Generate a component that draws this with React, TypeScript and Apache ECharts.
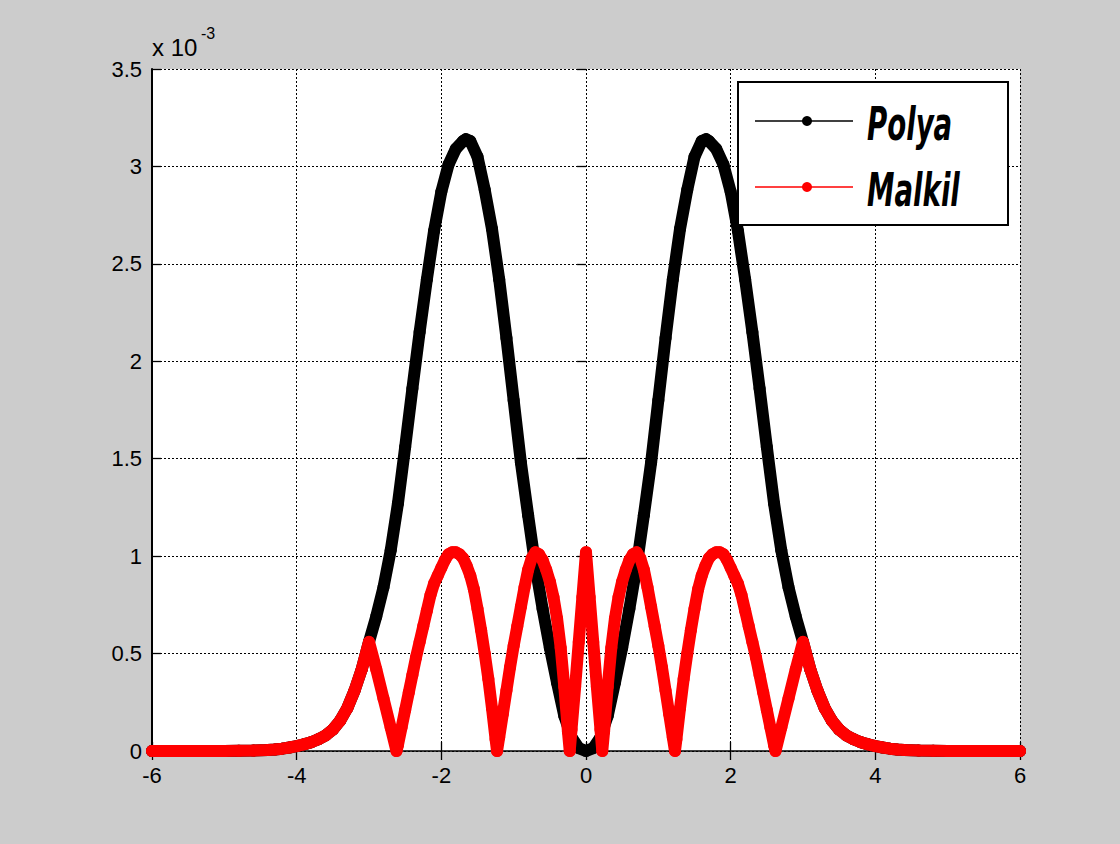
import React, { useEffect, useRef } from "react";
import * as echarts from "echarts";

// Polya curve samples (x, value in units of 1e-3)
const POLYA_X = [
  -6, -5.5, -5, -4.8, -4.6, -4.4, -4.3, -4.2, -4.1, -4,
  -3.9, -3.8, -3.7, -3.6, -3.5, -3.4, -3.3, -3.2, -3.1, -3,
  -2.9, -2.8, -2.7, -2.6, -2.5, -2.4, -2.3, -2.2, -2.1, -2,
  -1.9, -1.8, -1.7, -1.66, -1.6, -1.5, -1.4, -1.3, -1.2, -1.1,
  -1, -0.9, -0.8, -0.7, -0.6, -0.5, -0.4, -0.3, -0.2, -0.1,
  0,
  0.1, 0.2, 0.3, 0.4, 0.5, 0.6, 0.7, 0.8, 0.9, 1,
  1.1, 1.2, 1.3, 1.4, 1.5, 1.6, 1.66, 1.7, 1.8, 1.9,
  2, 2.1, 2.2, 2.3, 2.4, 2.5, 2.6, 2.7, 2.8, 2.9,
  3, 3.1, 3.2, 3.3, 3.4, 3.5, 3.6, 3.7, 3.8, 3.9,
  4, 4.1, 4.2, 4.3, 4.4, 4.6, 4.8, 5, 5.5, 6,
];
const POLYA_Y = [
  0, 0, 0, 0.001, 0.002, 0.005, 0.008, 0.012, 0.018, 0.025,
  0.034, 0.045, 0.06, 0.08, 0.11, 0.155, 0.22, 0.31, 0.42, 0.56,
  0.69, 0.84, 1.03, 1.27, 1.56, 1.86, 2.15, 2.42, 2.67, 2.87,
  3.01, 3.09, 3.13, 3.14, 3.13, 3.05, 2.88, 2.68, 2.42, 2.12,
  1.8, 1.48, 1.21, 0.95, 0.73, 0.53, 0.35, 0.18, 0.07, 0.015,
  0,
  0.015, 0.07, 0.18, 0.35, 0.53, 0.73, 0.95, 1.21, 1.48, 1.8,
  2.12, 2.42, 2.68, 2.88, 3.05, 3.13, 3.14, 3.13, 3.09, 3.01,
  2.87, 2.67, 2.42, 2.15, 1.86, 1.56, 1.27, 1.03, 0.84, 0.69,
  0.56, 0.42, 0.31, 0.22, 0.155, 0.11, 0.08, 0.06, 0.045, 0.034,
  0.025, 0.018, 0.012, 0.008, 0.005, 0.002, 0.001, 0, 0, 0,
];

// Malkil curve samples (x, value in units of 1e-3)
const MALKIL_X = [
  -6, -5.5, -5, -4.8, -4.6, -4.4, -4.3, -4.2, -4.1, -4,
  -3.9, -3.8, -3.7, -3.6, -3.5, -3.4, -3.3, -3.2, -3.1, -3,
  -2.9, -2.8, -2.7, -2.62, -2.6, -2.55, -2.5, -2.45, -2.4, -2.35,
  -2.3, -2.25, -2.2, -2.15, -2.1, -2.05, -2, -1.95, -1.9, -1.85,
  -1.8, -1.75, -1.7, -1.65, -1.6, -1.55, -1.5, -1.45, -1.4, -1.35,
  -1.3, -1.25, -1.23, -1.2, -1.15, -1.1, -1.05, -1, -0.95, -0.9,
  -0.85, -0.8, -0.75, -0.7, -0.65, -0.6, -0.55, -0.5, -0.45, -0.4,
  -0.35, -0.3, -0.25, -0.225, -0.2, -0.15, -0.1, -0.05,
  0,
  0.05, 0.1, 0.15, 0.2, 0.225, 0.25, 0.3, 0.35,
  0.4, 0.45, 0.5, 0.55, 0.6, 0.65, 0.7, 0.75, 0.8, 0.85,
  0.9, 0.95, 1, 1.05, 1.1, 1.15, 1.2, 1.23, 1.25, 1.3,
  1.35, 1.4, 1.45, 1.5, 1.55, 1.6, 1.65, 1.7, 1.75, 1.8,
  1.85, 1.9, 1.95, 2, 2.05, 2.1, 2.15, 2.2, 2.25, 2.3,
  2.35, 2.4, 2.45, 2.5, 2.55, 2.6, 2.62, 2.7, 2.8, 2.9,
  3, 3.1, 3.2, 3.3, 3.4, 3.5, 3.6, 3.7, 3.8, 3.9,
  4, 4.1, 4.2, 4.3, 4.4, 4.6, 4.8, 5, 5.5, 6,
];
const MALKIL_Y = [
  0, 0, 0, 0.001, 0.002, 0.005, 0.008, 0.012, 0.018, 0.025,
  0.034, 0.045, 0.06, 0.08, 0.11, 0.155, 0.22, 0.31, 0.42, 0.56,
  0.42, 0.27, 0.12, 0, 0.03, 0.12, 0.21, 0.3, 0.39, 0.48,
  0.56, 0.64, 0.72, 0.8, 0.86, 0.9, 0.94, 0.98, 1.01, 1.02,
  1.02, 1.01, 0.99, 0.95, 0.9, 0.83, 0.73, 0.62, 0.5, 0.37,
  0.22, 0.06, 0, 0.07, 0.19, 0.31, 0.43, 0.54, 0.64, 0.74,
  0.84, 0.93, 0.99, 1.02, 1.01, 0.98, 0.93, 0.87, 0.79, 0.68,
  0.53, 0.33, 0.1, 0, 0.11, 0.33, 0.56, 0.79,
  1.02,
  0.79, 0.56, 0.33, 0.11, 0, 0.1, 0.33, 0.53,
  0.68, 0.79, 0.87, 0.93, 0.98, 1.01, 1.02, 0.99, 0.93, 0.84,
  0.74, 0.64, 0.54, 0.43, 0.31, 0.19, 0.07, 0, 0.06, 0.22,
  0.37, 0.5, 0.62, 0.73, 0.83, 0.9, 0.95, 0.99, 1.01, 1.02,
  1.02, 1.01, 0.98, 0.94, 0.9, 0.86, 0.8, 0.72, 0.64, 0.56,
  0.48, 0.39, 0.3, 0.21, 0.12, 0.03, 0, 0.12, 0.27, 0.42,
  0.56, 0.42, 0.31, 0.22, 0.155, 0.11, 0.08, 0.06, 0.045, 0.034,
  0.025, 0.018, 0.012, 0.008, 0.005, 0.002, 0.001, 0, 0, 0,
];

const SERIES_NAMES = ["Polya", "Malkil"];
const SERIES_COLORS = ["#000000", "#ff0000"];

const X_MIN = -6;
const X_MAX = 6;
const X_STEP = 2;
const Y_MIN = 0;
const Y_MAX = 3.5;
const Y_STEP = 0.5;

const zip = (xs: number[], ys: number[]) => xs.map((x, i) => [x, ys[i]]);

const AXIS_FONT = "'Liberation Sans', Arial, Helvetica, sans-serif";

export default function App() {
  const ref = useRef<HTMLDivElement>(null);

  useEffect(() => {
    if (!ref.current) return;
    const chart = echarts.init(ref.current, null, { renderer: "svg" });

    const tick = { show: true, inside: true, length: 9, lineStyle: { color: "#000", width: 1.3 } };
    const grid = { color: "#000", width: 1, type: [2, 2] as number[] };

    const lineSeries = (i: number, xs: number[], ys: number[]) => ({
      type: "line",
      name: SERIES_NAMES[i],
      data: zip(xs, ys),
      xAxisIndex: 0,
      yAxisIndex: 0,
      clip: false,
      symbol: "circle",
      symbolSize: 12,
      showSymbol: true,
      itemStyle: { color: SERIES_COLORS[i], borderWidth: 0 },
      lineStyle: { color: SERIES_COLORS[i], width: 12, cap: "round", join: "round" },
      z: 3 + i,
      emphasis: { disabled: true },
    });

    const legendRow = (i: number, cy: number) => [
      {
        type: "line",
        z: 101,
        shape: { x1: 755, y1: cy, x2: 853, y2: cy },
        style: { stroke: SERIES_COLORS[i], lineWidth: 1.4 },
      },
      {
        type: "circle",
        z: 102,
        shape: { cx: 807, cy, r: 5 },
        style: { fill: SERIES_COLORS[i] },
      },
      {
        type: "text",
        z: 102,
        x: 867,
        y: cy + 3,
        scaleX: 0.6,
        style: {
          text: SERIES_NAMES[i],
          fill: "#000",
          fontFamily: "'DejaVu Sans', sans-serif",
          fontStyle: "italic",
          fontWeight: "bold",
          fontSize: 46,
          align: "left",
          verticalAlign: "middle",
          textAlign: "left",
          textVerticalAlign: "middle",
        },
      },
    ];

    chart.setOption({
      animation: false,
      backgroundColor: "#cccccc",
      grid: {
        left: 152,
        top: 69,
        right: 100,
        bottom: 93,
        show: true,
        backgroundColor: "#ffffff",
        borderWidth: 0,
      },
      xAxis: [
        {
          type: "value",
          min: X_MIN,
          max: X_MAX,
          interval: X_STEP,
          position: "bottom",
          axisLine: { show: true, onZero: false, lineStyle: { color: "#000", width: 1.5 } },
          axisTick: tick,
          axisLabel: { color: "#000", fontFamily: AXIS_FONT, fontSize: 22, margin: 13 },
          splitLine: { show: true, lineStyle: grid },
        },
        {
          type: "value",
          min: X_MIN,
          max: X_MAX,
          interval: X_STEP,
          position: "top",
          axisLine: { show: false },
          axisTick: tick,
          axisLabel: { show: false },
          splitLine: { show: false },
        },
      ],
      yAxis: [
        {
          type: "value",
          min: Y_MIN,
          max: Y_MAX,
          interval: Y_STEP,
          position: "left",
          axisLine: { show: true, onZero: false, lineStyle: { color: "#000", width: 2 } },
          axisTick: tick,
          axisLabel: { color: "#000", fontFamily: AXIS_FONT, fontSize: 22, margin: 10 },
          splitLine: { show: true, lineStyle: grid },
        },
        {
          type: "value",
          min: Y_MIN,
          max: Y_MAX,
          interval: Y_STEP,
          position: "right",
          axisLine: { show: false },
          axisTick: tick,
          axisLabel: { show: false },
          splitLine: { show: false },
        },
      ],
      series: [lineSeries(0, POLYA_X, POLYA_Y), lineSeries(1, MALKIL_X, MALKIL_Y)],
      graphic: [
        {
          type: "text",
          z: 50,
          x: 152,
          y: 47,
          style: {
            text: "x 10",
            fill: "#000",
            fontFamily: AXIS_FONT,
            fontSize: 24,
            align: "left",
            verticalAlign: "middle",
            textAlign: "left",
            textVerticalAlign: "middle",
          },
        },
        {
          type: "text",
          z: 50,
          x: 201,
          y: 33,
          style: {
            text: "-3",
            fill: "#000",
            fontFamily: AXIS_FONT,
            fontSize: 16,
            align: "left",
            verticalAlign: "middle",
            textAlign: "left",
            textVerticalAlign: "middle",
          },
        },
        {
          type: "rect",
          z: 100,
          shape: { x: 738, y: 82, width: 270, height: 143 },
          style: { fill: "#ffffff", stroke: "#000", lineWidth: 2 },
        },
        ...legendRow(0, 121),
        ...legendRow(1, 187),
      ],
    });

    return () => chart.dispose();
  }, []);

  return (
    <div
      ref={ref}
      style={{ position: "fixed", left: 0, top: 0, width: 1120, height: 844 }}
    />
  );
}
